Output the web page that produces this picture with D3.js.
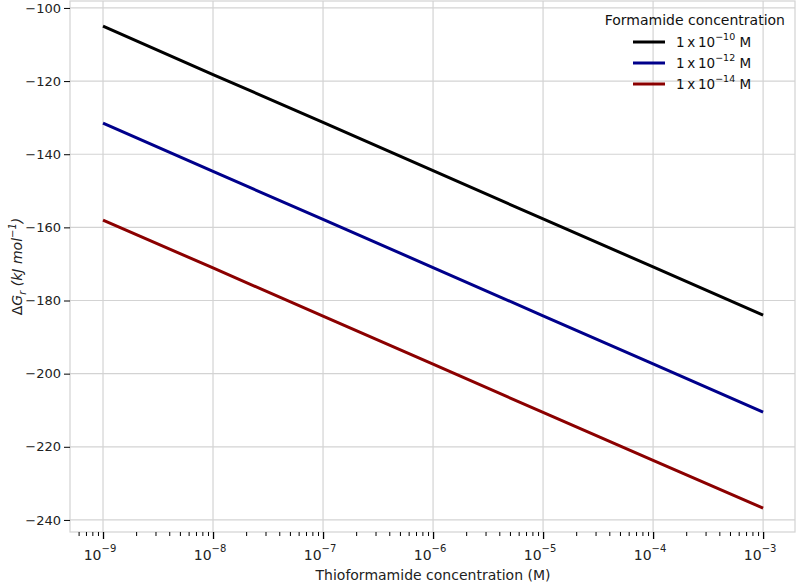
<!DOCTYPE html>
<html><head><meta charset="utf-8">
<script src="https://cdn.jsdelivr.net/npm/d3@7"></script>
<style>body{margin:0;background:#fff}text{font-family:"DejaVu Sans",sans-serif}</style>
</head><body><svg id="c" width="798" height="586"></svg>
<script>
// data
var thio = [1e-9, 1e-8, 1e-7, 1e-6, 1e-5, 1e-4, 1e-3];
var seriesNames = ["-10", "-12", "-14"];
var seriesColors = ["#000000", "#00008b", "#8b0000"];
var dG10 = [-105, -118.2, -131.3, -144.5, -157.7, -170.8, -184];
var dG12 = [-131.5, -144.7, -157.8, -171, -184.2, -197.3, -210.5];
var dG14 = [-158, -171.1, -184.3, -197.4, -210.6, -223.7, -236.8];
var yTicks = [-240, -220, -200, -180, -160, -140, -120, -100];
var xTicks = [-9, -8, -7, -6, -5, -4, -3];

var svg = d3.select("#c"),
    mLeft = 70, mRight = 795, mTop = 1, mBottom = 532;

var x = d3.scaleLog().domain([Math.pow(10, -9.3), Math.pow(10, -2.71)]).range([mLeft, mRight]),
    y = d3.scaleLinear().domain([-243.3, -98.1]).range([mBottom, mTop]);

// grid
svg.append("g").selectAll("line").data(xTicks).enter().append("line")
  .attr("x1", function (d) { return x(Math.pow(10, d)); }).attr("x2", function (d) { return x(Math.pow(10, d)); })
  .attr("y1", mTop).attr("y2", mBottom).attr("stroke", "#d3d3d3").attr("stroke-width", 1.2);
svg.append("g").selectAll("line").data(yTicks).enter().append("line")
  .attr("y1", function (d) { return y(d); }).attr("y2", function (d) { return y(d); })
  .attr("x1", mLeft).attr("x2", mRight).attr("stroke", "#d3d3d3").attr("stroke-width", 1.2);
svg.append("rect").attr("x", mLeft).attr("y", mTop).attr("width", mRight - mLeft).attr("height", mBottom - mTop)
  .attr("fill", "none").attr("stroke", "#d3d3d3").attr("stroke-width", 1.2);

// x axis
var xa = svg.append("g").attr("transform", "translate(0," + mBottom + ")")
  .call(d3.axisBottom(x).ticks(60).tickSize(4).tickFormat(""));
xa.select(".domain").remove();
xa.selectAll("line").attr("stroke", "#000");
xa.selectAll(".tick").filter(function (d) { return Math.abs(Math.log10(d) - Math.round(Math.log10(d))) < 1e-6; })
  .select("line").attr("y2", 7).attr("stroke-width", 1.3);
xTicks.forEach(function (p) {
  var t = svg.append("text").attr("x", x(Math.pow(10, p)) - 3).attr("y", mBottom + 28)
    .attr("text-anchor", "middle").attr("font-size", 14).attr("fill", "#222")
    .attr("font-family", "Liberation Sans, Arial, sans-serif");
  t.append("tspan").text("10");
  t.append("tspan").attr("dy", -8).attr("font-size", 10).text("\u2212" + (-p));
});

// y axis
var ya = svg.append("g").attr("transform", "translate(" + mLeft + ",0)")
  .call(d3.axisLeft(y).tickValues(yTicks).tickSize(6).tickFormat(function (d) { return "\u2212" + (-d); }));
ya.select(".domain").remove();
ya.selectAll("line").attr("stroke", "#000");
ya.selectAll("text").attr("font-size", 13).attr("fill", "#222").attr("font-family", "Liberation Sans, Arial, sans-serif");

// lines
var line = d3.line().x(function (d, i) { return x(thio[i]); }).y(function (d) { return y(d); });
[dG10, dG12, dG14].forEach(function (s, i) {
  svg.append("path").datum(s).attr("d", line).attr("fill", "none")
    .attr("stroke", seriesColors[i]).attr("stroke-width", 3);
});

// labels
svg.append("text").attr("x", 433).attr("y", 580).attr("text-anchor", "middle")
  .attr("font-size", 14).attr("font-family", "Liberation Sans, Arial, sans-serif").attr("fill", "#222")
  .text("Thioformamide concentration (M)");
var yl = svg.append("text").attr("transform", "translate(22," + ((mTop + mBottom) / 2) + ") rotate(-90)")
  .attr("text-anchor", "middle").attr("font-size", 14).attr("fill", "#222").attr("font-style", "italic");
yl.append("tspan").attr("font-style", "normal").text("\u0394");
yl.append("tspan").text("G");
yl.append("tspan").attr("dy", 4).attr("font-size", 10).text("r");
yl.append("tspan").attr("dy", -4).text(" (kJ mol");
yl.append("tspan").attr("dy", -6).attr("font-size", 10).text("\u22121");
yl.append("tspan").attr("dy", 6).text(")");

// legend
svg.append("text").attr("x", 785).attr("y", 25).attr("text-anchor", "end")
  .attr("font-size", 14).attr("font-family", "Liberation Sans, Arial, sans-serif").attr("fill", "#111")
  .text("Formamide concentration");
seriesNames.forEach(function (n, i) {
  var yy = 42 + i * 21;
  svg.append("line").attr("x1", 633).attr("x2", 665).attr("y1", yy).attr("y2", yy)
    .attr("stroke", seriesColors[i]).attr("stroke-width", 3);
  var t = svg.append("text").attr("x", 676).attr("y", yy + 5).attr("font-size", 13.5).attr("fill", "#111");
  t.append("tspan").text("1\u2009x\u200910");
  t.append("tspan").attr("dy", -7).attr("font-size", 9.5).text("\u2212" + n.slice(1));
  t.append("tspan").attr("dy", 7).text(" M");
});
</script></body></html>
